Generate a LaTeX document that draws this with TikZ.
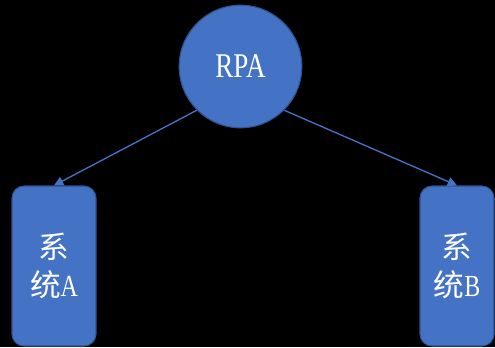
\documentclass[tikz,border=0pt]{standalone}
\usepackage{fontspec}
\setmainfont{Liberation Serif}
\newfontfamily\narrowserif[FakeStretch=0.78]{Liberation Serif}
\newfontfamily\cjk{Noto Sans CJK SC}
\usetikzlibrary{arrows.meta}

\definecolor{rpablue}{HTML}{4472C4}
\definecolor{rpaedge}{HTML}{2F528F}

\begin{document}
\begin{tikzpicture}[x=0.75pt,y=-0.75pt,
    ball/.style={circle, fill=rpablue, draw=rpaedge, line width=0.8pt,
        minimum size=92pt, inner sep=0pt, text=white,
        font=\narrowserif\fontsize{26}{30}\selectfont},
    sysbox/.style={rectangle, rounded corners=9pt, fill=rpablue, draw=rpaedge,
        line width=0.8pt, minimum height=120pt, inner sep=0pt, text=white,
        align=center, font=\narrowserif\fontsize{23}{28.5}\selectfont},
    link/.style={draw=rpablue, line width=1pt, -{Triangle[length=7pt,width=7pt]}}]

    % Black background, fixes the size of the picture
    \fill[black] (0,0) rectangle (495,347);
    \useasboundingbox (0,0) rectangle (495,347);

    % The robot and the two systems
    \node[ball] (rpa) at (240.5,66.5) {RPA};
    \node[sysbox, minimum width=63pt] (sysA) at (54,266) {{\cjk 系}\\{\cjk 统}A};
    \node[sysbox, minimum width=55.5pt] (sysB) at (457,266) {{\cjk 系}\\{\cjk 统}B};

    % Arrows from the robot to the systems
    \draw[link] (rpa.south west) -- (sysA.north);
    \draw[link] (rpa.south east) -- (sysB.north);

\end{tikzpicture}
\end{document}
